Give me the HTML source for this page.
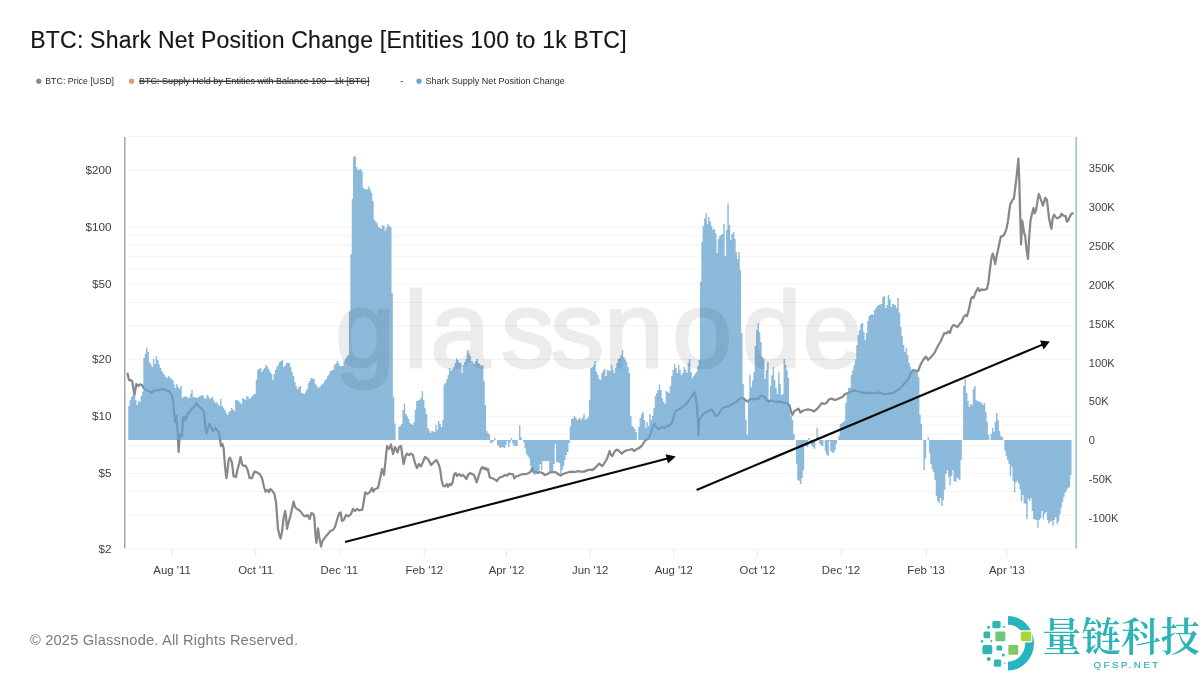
<!DOCTYPE html>
<html lang="en"><head><meta charset="utf-8"><title>BTC: Shark Net Position Change</title>
<style>
html,body{margin:0;padding:0;background:#fff}
body{width:1200px;height:675px;overflow:hidden;font-family:"Liberation Sans",sans-serif}
svg{display:block}
text{font-family:"Liberation Sans",sans-serif}
.cjk{font-family:"Liberation Serif","Noto Serif CJK SC",serif}
</style></head><body>
<svg width="1200" height="675" viewBox="0 0 1200 675">
<rect width="1200" height="675" fill="#fff"/>
<!-- title -->
<text id="title" x="30.2" y="48.4" font-size="23" fill="#161616" stroke="#161616" stroke-width="0.15" textLength="596.4" lengthAdjust="spacing">BTC: Shark Net Position Change [Entities 100 to 1k BTC]</text>
<!-- legend -->
<g font-size="9.7" fill="#2c2c2c">
<circle cx="38.8" cy="81.2" r="2.6" fill="#8a8a8a"/>
<text id="lg1" x="45.2" y="84.3" textLength="68.8" lengthAdjust="spacingAndGlyphs">BTC: Price [USD]</text>
<circle cx="131.6" cy="81.2" r="2.6" fill="#e8917b"/>
<text id="lg2" x="139" y="84.3" textLength="230.4" lengthAdjust="spacingAndGlyphs" text-decoration="line-through">BTC: Supply Held by Entities with Balance 100 - 1k [BTC]</text>
<path d="M139 81.3H369.4" stroke="#333" stroke-width="0.9"/>
<text x="400.3" y="84.3">-</text>
<circle cx="419" cy="81.2" r="2.6" fill="#6ea3c9"/>
<text id="lg3" x="425.5" y="84.3" textLength="139.3" lengthAdjust="spacingAndGlyphs">Shark Supply Net Position Change</text>
</g>
<!-- grid -->
<g stroke="#f3f3f3" stroke-width="1" fill="none">
<path d="M128 136.6H1072"/><path d="M128 515.3H1072"/><path d="M128 491.6H1072"/><path d="M128 473.3H1072"/><path d="M128 458.3H1072"/><path d="M128 445.6H1072"/><path d="M128 434.6H1072"/><path d="M128 424.9H1072"/><path d="M128 416.3H1072"/><path d="M128 359.3H1072"/><path d="M128 326H1072"/><path d="M128 302.3H1072"/><path d="M128 284H1072"/><path d="M128 269H1072"/><path d="M128 256.3H1072"/><path d="M128 245.3H1072"/><path d="M128 235.6H1072"/><path d="M128 227H1072"/><path d="M128 170H1072"/><path d="M128 549.3H1072"/>
</g>
<g stroke="#e9e9e9" stroke-width="1" fill="none"><path d="M172 549.5V557"/><path d="M255.6 549.5V557"/><path d="M339.3 549.5V557"/><path d="M424.3 549.5V557"/><path d="M506.5 549.5V557"/><path d="M590.2 549.5V557"/><path d="M673.8 549.5V557"/><path d="M757.4 549.5V557"/><path d="M841 549.5V557"/><path d="M926 549.5V557"/><path d="M1006.9 549.5V557"/></g>
<!-- price line -->
<path d="M127.6 373.6L129 380L131 380L132.4 382L134.4 395L136.4 384L138.4 386L140 384.4L142 385L143.6 388L146 390L149 391L151.4 393L154 390.4L157 390.4L160 389.6L163 389L166 390.4L169 391L171.6 395L173 400L174 412L175 422L176.4 416L177.6 432L178.6 452L179.6 436L180.6 434L182 436L183 418L184.4 417L185.6 420L188 413L190 412L192 408L194.4 407L196.4 403L198.4 406L200 407L202 409L204 412L205.6 429L206.4 433L208 428L209.4 424L211 427L213 431L215 428L217 430L219 433L220 439L221 446L222.4 444L223.6 448L225 466L226.4 478L227.6 470L228.6 460L230 457.6L232 463L233.6 476.4L236 477L237.6 469L239 464L240.6 457L242 464L243.6 466L245.6 465.6L247.6 470L249.6 478L252 478L254.4 471.6L257 472.4L259.6 474L262 478L264 487L265.6 491.6L267.6 490L269 492L270.4 489L272.4 491L274.4 494L276 502L277.2 518L278 529L279.4 535L280.6 538.6L282 532L283.6 518L285.2 511L286 516L287 529L288.4 523L290.4 516L292.4 507L293.6 501.6L295 507L297 509L299 510L301 512L303 515L305 516.4L307.6 515L309.6 519L311.4 513L313.4 514L314.4 518L315.4 534L316.4 543L318 528.4L319.4 538L321 546.6L322.4 541L324 539L326 536L328 534L330.4 531L333 530L335 527L337 520L339 513.6L340.6 512.4L342 521L344 519.6L346 515L348.4 516.4L351 514L353 509L355 511L357 509L359 510.4L362.4 509.6L364 500L365.2 492.4L367 494L369.6 492.4L372 488L373.4 491.6L375 489L378 488L380 479L382 469L384 475L385.6 460L387 446L389 449L391 444.4L393 454L395 447L397.6 452.4L399 447L401 446L402.4 456L403.6 464L405.6 456L407 453.6L409 455L411 453.6L413 455L415 463L417 468L419 464L421 466.4L423 462L425 457L428 459L431 465L434 462L436.4 460L439 465L440.4 471L441.6 480L443 485.6L445 486.4L447 484L448 487L449.6 484L451 485L452.4 483L454 475L455.6 473L457 476L459 474L461 476L463 475L465 477L466.4 479L468 475L470 473L472 474L474 475L475.6 479L476.6 482.4L478 478L479.6 473L481 469L482.4 467L484 469L485.6 468L487 470L488 469L489.6 477L491 478L493 478.4L495 479.6L497 481L499 478L501 477L503 476.4L505 475L507 475.6L509 473.6L511 474L513 474.4L514.4 478.4L516 476.4L518 476L520 475L523 474L526 474L529 473L531 471L532.4 468L533.6 472.4L535.6 471.6L537.6 473L540 472L542.4 473L545 475L547.6 474L550 472.4L553 472L556 472.4L558 474L560.6 475.6L563 474L566 473L569 472L572 471.6L575 472L578 471.2L581 471.6L584 471.6L587 470.4L590 469.6L592.4 470L595 468L597 466L599 463.6L601 465L602.4 466L604.4 463L606.4 460L608 456L609.6 451L611 455L612.4 456L614.4 452L616.4 449.6L618.4 450.4L619 451L621.6 453.6L623.6 452L626 450.4L629 450L632 449L634 451L636 449.6L639 448L641.6 446L643.6 443L645.6 440L648 439L650 436L651.6 430L653 426L654.4 424L656 427L658 429L660 428L662.4 427L664.4 428L666.4 426.4L669 425.6L671 424L673 420L674.4 414L676 411L678 409.6L680 409L682 407L684 406L686 404L688 402L690 399L692 396L693.6 393L695 392.4L696 400L697 406L697.6 416L698.4 435L699.2 420L700.4 418L702.4 415L704.4 413L706.4 412.4L708.4 411L710.4 409.6L712.4 410.4L714.4 414L716.4 416L718.4 414L720.4 411L722.4 408L725 407L728 406.4L731 405L734 403L737 401.6L739.6 399L741.6 398L743.6 398.4L745.6 400.4L747.6 401.6L749.6 399.6L752 399L754 399.6L756.4 398.4L758.4 399L760.4 396L762.4 395.6L764.4 397L766.4 400L768.4 401.6L770.4 400.4L773 401L776 402L779 401.6L782 402.4L785 403L787.6 403.6L789.6 406L791 411L792.4 415L794.4 411L796.4 410L798.4 408.6L800.4 412.6L802.4 411L805 410L808 409.4L811 410L814 411.4L817 409L819.6 406L821.6 403L824 404L826.4 403L829 399.4L832 398.6L834.4 400L837 399.4L839.6 398L842.4 397L845 394L848 393L851 391.4L854 390.6L857 391L860 392L863 392.6L866 393.4L869 392.6L872 393.4L875 393L878 392.6L881 393L884 394L887 394L890 393.4L893 393L896 391L899 389.4L901.6 387L904 384L906.4 381L908.4 379L910 375L911.6 371.4L913.6 370L916 371L918.4 370.6L920 366L922 362L924 358.6L926 356.6L928 360L930 358L932.4 355.4L934.4 353L936.4 349L938.4 345L940.4 342L942.4 337.4L944.4 333L946.4 333.4L948.4 331.4L950 333L951.6 327.4L953.6 325L955.6 326L957.6 327L959.6 324L961.6 322L963.6 317L965.6 315L967 316L969 309L971 299L972.4 297L973.6 298L975 294L976.4 291L978 288L979.6 291L981.6 289.4L983.6 290L985.6 289.4L986.9 289L988.4 282.7L989.8 270.3L991.5 257.9L992.7 253.7L994 257.9L995.2 264.1L996.7 255.8L998.7 246.5L1000.8 236.7L1002.9 236.1L1005 233L1006.4 228.8L1008.1 220.5L1009.1 212.2L1010.2 204.3L1011.6 201.9L1012.6 199.4L1013.9 198.7L1015.3 187.3L1016.8 174.9L1018.4 158.7L1019.3 181.1L1020.1 212.2L1021.1 244.4L1022.2 220.5L1023.2 226.7L1024.3 234L1025.1 235L1026.3 247.5L1028 258.9L1029.2 237.1L1030.5 220.5L1031.9 214.3L1033.4 208.1L1034.6 213.3L1036.1 210.2L1037.5 200.8L1038.8 194L1040.2 197.7L1041.7 201.9L1042.9 205.6L1044.4 200.8L1045.4 197.7L1046.9 199.8L1047.9 208.1L1049.1 218.4L1050.6 225.7L1051.4 228.8L1052.7 218.4L1054.1 214.7L1055.8 217.4L1057.4 218.4L1058.9 217.4L1060.3 216.8L1061.4 213.9L1063 215.3L1064.5 216L1065.7 216L1066.8 221.6L1068.2 220.5L1069.9 216.4L1071.3 213.9L1072.8 213.3" fill="none" stroke="#888888" stroke-width="2.25" stroke-linejoin="round" stroke-linecap="round"/>
<!-- bars -->
<path d="M128.2 440V406H129.6V400H130.9V397H132.3V395.5H133.7V394H135.1V400H136.4V405H137.8V401H139.2V402H140.5V395.9H141.9V392H143.3V358H144.7V354H146V347.6H147.4V352H148.8V362H150.1V364.6H151.5V367H152.9V359H154.2V364H155.6V356H157V360H158.4V364.2H159.7V368H161.1V371H162.5V373.3H163.8V375H165.2V376.9H166.6V378H168V376H169.3V377.5H170.7V379H172.1V380H173.4V384.5H174.8V388H176.2V384H177.6V387.1H178.9V389H180.3V386H181.7V398H183V397H184.4V396H185.8V397H187.2V397.4H188.5V398H189.9V393.8H191.3V390H192.6V397H194V397.2H195.4V397.7H196.8V398H198.1V396.8H199.5V396H200.9V395.4H202.2V395H203.6V397.9H205V399H206.3V395H207.7V396.5H209.1V399H210.5V398H211.8V397H213.2V400.4H214.6V403H215.9V402H217.3V404H218.7V406H220.1V399H221.4V406H222.8V407.7H224.2V410H225.5V413.1H226.9V415H228.3V412H229.7V410.8H231V408H232.4V409.6H233.8V411H235.1V400H236.5V400.3H237.9V401H239.3V402.4H240.6V404H242V398H243.4V399H244.7V400H246.1V396H247.5V397.3H248.8V399H250.2V397.4H251.6V396H253V394.6H254.3V394H255.7V380H257.1V370H258.4V368.9H259.8V368H261.2V372H262.6V369.5H263.9V368H265.3V365H266.7V366.8H268V369H269.4V371.7H270.8V374H272.2V380H273.5V373.9H274.9V370H276.3V366.7H277.6V365H279V362H280.4V361.1H281.8V360H283.1V367H284.5V365.4H285.9V363H287.2V363H288.6V363H290V367H291.3V371.7H292.7V376H294.1V382H295.5V386H296.8V389H298.2V387.1H299.6V386H300.9V393H302.3V393.4H303.7V394H305.1V391.4H306.4V389H307.8V383H309.2V380.9H310.5V378H311.9V378.6H313.3V379H314.7V384H316V385.4H317.4V388H318.8V387H320.1V385.9H321.5V384.1H322.9V383H324.3V380.4H325.6V379H327V376H328.4V374.2H329.7V371H331.1V370.6H332.5V370H333.8V365H335.2V363.6H336.6V361H338V363.2H339.3V366H340.7V366H342.1V366H343.4V361.3H344.8V359H346.2V356.5H347.6V355H348.9V311.6H350.3V254.4H351.7V199H353V157H354.4V156H355.8V167H357.2V170H358.5V169.4H359.9V169H361.3V171.5H362.6V188H364V188.7H365.4V190H366.8V189H368.1V186.6H369.5V189.7H370.9V193H372.2V201.2H373.6V220H375V221.6H376.4V223.2H377.7V227H379.1V227.8H380.5V229H381.8V225H383.2V226H384.6V231H385.9V227.4H387.3V224H388.7V226H390.1V227H391.4V293.1H392.8V397H394.2V423.5H395.5V440H396.9V440H398.3V427H399.7V426H401V424H402.4V410H403.8V403.6H405.1V414H406.5V416.5H407.9V419H409.3V423H410.6V424.3H412V425H413.4V422H414.7V410H416.1V401H417.5V400.4H418.9V400H420.2V398H421.6V391H423V400H424.3V408H425.7V414H427.1V428H428.4V430.3H429.8V433H431.2V431H432.6V431.5H433.9V432H435.3V425H436.7V430H438V421H439.4V424.3H440.8V427H442.2V420H443.5V384.4H444.9V383H446.3V379.2H447.6V375H449V368H450.4V371H451.8V369.3H453.1V367H454.5V363H455.9V358H457.2V360.3H458.6V363H460V363H461.4V373H462.7V365H464.1V362H465.5V359H466.8V350H468.2V353.4H469.6V356H470.9V361H472.3V362.5H473.7V364H475.1V361.1H476.4V359H477.8V363H479.2V364.3H480.5V366H481.9V365H483.3V381H484.7V405.2H486V431.1H487.4V433H488.8V435H490.1V443.3H491.5V442.5H492.9V441H494.3V438H495.6V440H497V445.1H498.4V447.1H499.7V448H501.1V447H502.5V447.4H503.9V448H505.2V444.8H506.6V441H508V447H509.3V442.4H510.7V438H512.1V443.4H513.5V446H514.8V446H516.2V446H517.6V440H518.9V425.4H520.3V437H521.7V440H523V442H524.4V448H525.8V454H527.2V455.7H528.5V458H529.9V466H531.3V468.9H532.6V472H534V475H535.4V473.4H536.8V472H538.1V471H539.5V464H540.9V470H542.2V461H543.6V461H545V461H546.4V461H547.7V461H549.1V472H550.5V471.5H551.8V471H553.2V464H554.6V444H556V462H557.3V462.5H558.7V463H560.1V474H561.4V470H562.8V466H564.2V460H565.5V455.1H566.9V452H568.3V443.3H569.7V426.5H571V419H572.4V418.2H573.8V416H575.1V417.7H576.5V420H577.9V419H579.3V418H580.6V420H582V417.4H583.4V414H584.7V420H586.1V418.7H587.5V417H588.9V400H590.2V368H591.6V367H593V365H594.3V361H595.7V372H597.1V374.7H598.5V379H599.8V380H601.2V373H602.6V370.5H603.9V369H605.3V376H606.7V370H608V370.4H609.4V371H610.8V365H612.2V369.2H613.5V373H614.9V368H616.3V362.9H617.6V359H619V358H620.4V355H621.8V350H623.1V357H624.5V359.5H625.9V362H627.2V367H628.6V373H630V416H631.4V426H632.7V427H634.1V429H635.5V432H636.8V440H638.2V426.8H639.6V418H641V414.3H642.3V412H643.7V420H645.1V428H646.4V422H647.8V426H649.2V414H650.6V420H651.9V416H653.3V408H654.7V396H656V393.3H657.4V390H658.8V384.4H660.1V390H661.5V398H662.9V402H664.3V404H665.6V391H667V392H668.4V393H669.7V386H671.1V376H672.5V370H673.9V364H675.2V368.1H676.6V373H678V365H679.3V370.1H680.7V375H682.1V373H683.5V367H684.8V370H686.2V373H687.6V363H688.9V359H690.3V372H691.7V378H693.1V376H694.4V373.8H695.8V372H697.2V366H698.5V360H699.9V281.9H701.3V242H702.6V226H704V218.4H705.4V212.9H706.8V224H708.1V217H709.5V221.4H710.9V226H712.2V229.8H713.6V229H715V233.5H716.4V253H717.7V239H719.1V236H720.5V235.1H721.8V234H723.2V224H724.6V256H726V230H727.3V203.6H728.7V225H730.1V240H731.4V234H732.8V232H734.2V239H735.6V252H736.9V259H738.3V252H739.7V270H741V332.9H742.4V384H743.8V400H745.1V420H746.5V434.7H747.9V400H749.3V374.9H750.6V387H752V380.5H753.4V372H754.7V346H756.1V330H757.5V323H758.9V332H760.2V342H761.6V357H763V359H764.3V379H765.7V370H767.1V362.3H768.5V402H769.8V386H771.2V375.5H772.6V367H773.9V380H775.3V388H776.7V394H778.1V372H779.4V384H780.8V395H782.2V394H783.5V359H784.9V365H786.3V370H787.7V378.1H789V404H790.4V416H791.8V420H793.1V434H794.5V440H795.9V464H797.2V480H798.6V481H800V484H801.4V478H802.7V470.2H804.1V446H805.5V446.6H806.8V447H808.2V438H809.6V443H811V445H812.3V447H813.7V449H815.1V440H816.4V428H817.8V436.7H819.2V444H820.6V445.2H821.9V446H823.3V440H824.7V451H826V454.3H827.4V456H828.8V441H830.2V451H831.5V452.2H832.9V453H834.3V450H835.6V444H837V440H838.4V436H839.7V424H841.1V423.2H842.5V422H843.9V421H845.2V403H846.6V394H848V388H849.3V387.8H850.7V375H852.1V370.2H853.5V365H854.8V359H856.2V345H857.6V335H858.9V330H860.3V324H861.7V323H863.1V332H864.4V340H865.8V333H867.2V321H868.5V316H869.9V315H871.3V314H872.7V315H874V310H875.4V307.8H876.8V306H878.1V305H879.5V304.4H880.9V304H882.2V297H883.6V296H885V308H886.4V305H887.7V295H889.1V299H890.5V307H891.8V304H893.2V304.5H894.6V305H896V308H897.3V298H898.7V312.8H900.1V327H901.4V336H902.8V345H904.2V352H905.6V348H906.9V355H908.3V363H909.7V367H911V370H912.4V369.7H913.8V369H915.2V371H916.5V372H917.9V377.2H919.3V415H920.6V423.8H922V440H923.4V470H924.8V458.2H926.1V440H927.5V437H928.9V453.2H930.2V464H931.6V469.2H933V472H934.3V480H935.7V496H937.1V501H938.5V503H939.8V498H941.2V506H942.6V500H943.9V490H945.3V474H946.7V470H948.1V477H949.4V485H950.8V476H952.2V470H953.5V481H954.9V482H956.3V478H957.7V478.8H959V480H960.4V459.8H961.8V440H963.1V385.9H964.5V379H965.9V393H967.3V401H968.6V407H970V404H971.4V405H972.7V389H974.1V386H975.5V400H976.8V401H978.2V401.7H979.6V402H981V403H982.3V405H983.7V403H985.1V412H986.4V422H987.8V435.1H989.2V440H990.6V434H991.9V428H993.3V432H994.7V422H996V413H997.4V420H998.8V430.9H1000.2V436.1H1001.5V437H1002.9V440H1004.3V450.6H1005.6V455.9H1007V460.3H1008.4V463.9H1009.8V476.4H1011.1V466.6H1012.5V480.9H1013.9V492.4H1015.2V482.6H1016.6V480.8H1018V483.5H1019.4V489.7H1020.7V501.3H1022.1V495H1023.5V503H1024.8V504H1026.2V519H1027.6V498.6H1028.9V501H1030.3V498.6H1031.7V511H1033.1V519H1034.4V519.5H1035.8V520H1037.2V527.4H1038.5V520H1039.9V518H1041.3V511H1042.7V519.4H1044V514H1045.4V512H1046.8V520H1048.1V523.5H1049.5V521.7H1050.9V520.8H1052.3V526H1053.6V520H1055V517H1056.4V524H1057.7V521.7H1059.1V514.6H1060.5V507.5H1061.9V502H1063.2V496.8H1064.6V492.4H1066V490.3H1067.3V488H1068.7V486.9H1070.1V475.2H1071.4V440Z" fill="#6aa6d3" fill-opacity="0.72"/>
<path d="M129.5 440V406M130.8 440V400M132.2 440V397M133.6 440V395.5M135 440V394M136.3 440V400M137.7 440V405M139.1 440V401M140.4 440V402M141.8 440V395.9M143.2 440V392M144.6 440V358M145.9 440V354M147.3 440V347.6M148.7 440V352M150 440V362M151.4 440V364.6M152.8 440V367M154.1 440V359M155.5 440V364M156.9 440V356M158.3 440V360M159.6 440V364.2M161 440V368M162.4 440V371M163.7 440V373.3M165.1 440V375M166.5 440V376.9M167.9 440V378M169.2 440V376M170.6 440V377.5M172 440V379M173.3 440V380M174.7 440V384.5M176.1 440V388M177.5 440V384M178.8 440V387.1M180.2 440V389M181.6 440V386M182.9 440V398M184.3 440V397M185.7 440V396M187.1 440V397M188.4 440V397.4M189.8 440V398M191.2 440V393.8M192.5 440V390M193.9 440V397M195.3 440V397.2M196.7 440V397.7M198 440V398M199.4 440V396.8M200.8 440V396M202.1 440V395.4M203.5 440V395M204.9 440V397.9M206.2 440V399M207.6 440V395M209 440V396.5M210.4 440V399M211.7 440V398M213.1 440V397M214.5 440V400.4M215.8 440V403M217.2 440V402M218.6 440V404M220 440V406M221.3 440V399M222.7 440V406M224.1 440V407.7M225.4 440V410M226.8 440V413.1M228.2 440V415M229.6 440V412M230.9 440V410.8M232.3 440V408M233.7 440V409.6M235 440V411M236.4 440V400M237.8 440V400.3M239.2 440V401M240.5 440V402.4M241.9 440V404M243.3 440V398M244.6 440V399M246 440V400M247.4 440V396M248.7 440V397.3M250.1 440V399M251.5 440V397.4M252.9 440V396M254.2 440V394.6M255.6 440V394M257 440V380M258.3 440V370M259.7 440V368.9M261.1 440V368M262.5 440V372M263.8 440V369.5M265.2 440V368M266.6 440V365M267.9 440V366.8M269.3 440V369M270.7 440V371.7M272.1 440V374M273.4 440V380M274.8 440V373.9M276.2 440V370M277.5 440V366.7M278.9 440V365M280.3 440V362M281.7 440V361.1M283 440V360M284.4 440V367M285.8 440V365.4M287.1 440V363M288.5 440V363M289.9 440V363M291.2 440V367M292.6 440V371.7M294 440V376M295.4 440V382M296.7 440V386M298.1 440V389M299.5 440V387.1M300.8 440V386M302.2 440V393M303.6 440V393.4M305 440V394M306.3 440V391.4M307.7 440V389M309.1 440V383M310.4 440V380.9M311.8 440V378M313.2 440V378.6M314.6 440V379M315.9 440V384M317.3 440V385.4M318.7 440V388M320 440V387M321.4 440V385.9M322.8 440V384.1M324.2 440V383M325.5 440V380.4M326.9 440V379M328.3 440V376M329.6 440V374.2M331 440V371M332.4 440V370.6M333.7 440V370M335.1 440V365M336.5 440V363.6M337.9 440V361M339.2 440V363.2M340.6 440V366M342 440V366M343.3 440V366M344.7 440V361.3M346.1 440V359M347.5 440V356.5M348.8 440V355M350.2 440V311.6M351.6 440V254.4M352.9 440V199M354.3 440V157M355.7 440V156M357.1 440V167M358.4 440V170M359.8 440V169.4M361.2 440V169M362.5 440V171.5M363.9 440V188M365.3 440V188.7M366.7 440V190M368 440V189M369.4 440V186.6M370.8 440V189.7M372.1 440V193M373.5 440V201.2M374.9 440V220M376.3 440V221.6M377.6 440V223.2M379 440V227M380.4 440V227.8M381.7 440V229M383.1 440V225M384.5 440V226M385.8 440V231M387.2 440V227.4M388.6 440V224M390 440V226M391.3 440V227M392.7 440V293.1M394.1 440V397M395.4 440V423.5M399.6 440V427M400.9 440V426M402.3 440V424M403.7 440V410M405 440V403.6M406.4 440V414M407.8 440V416.5M409.2 440V419M410.5 440V423M411.9 440V424.3M413.3 440V425M414.6 440V422M416 440V410M417.4 440V401M418.8 440V400.4M420.1 440V400M421.5 440V398M422.9 440V391M424.2 440V400M425.6 440V408M427 440V414M428.3 440V428M429.7 440V430.3M431.1 440V433M432.5 440V431M433.8 440V431.5M435.2 440V432M436.6 440V425M437.9 440V430M439.3 440V421M440.7 440V424.3M442.1 440V427M443.4 440V420M444.8 440V384.4M446.2 440V383M447.5 440V379.2M448.9 440V375M450.3 440V368M451.7 440V371M453 440V369.3M454.4 440V367M455.8 440V363M457.1 440V358M458.5 440V360.3M459.9 440V363M461.3 440V363M462.6 440V373M464 440V365M465.4 440V362M466.7 440V359M468.1 440V350M469.5 440V353.4M470.8 440V356M472.2 440V361M473.6 440V362.5M475 440V364M476.3 440V361.1M477.7 440V359M479.1 440V363M480.4 440V364.3M481.8 440V366M483.2 440V365M484.6 440V381M485.9 440V405.2M487.3 440V431.1M488.7 440V433M490 440V435M491.4 440V443.3M492.8 440V442.5M494.2 440V441M495.5 440V438M498.3 440V445.1M499.6 440V447.1M501 440V448M502.4 440V447M503.8 440V447.4M505.1 440V448M506.5 440V444.8M507.9 440V441M509.2 440V447M510.6 440V442.4M512 440V438M513.4 440V443.4M514.7 440V446M516.1 440V446M517.5 440V446M520.2 440V425.4M521.6 440V437M524.3 440V442M525.7 440V448M527.1 440V454M528.4 440V455.7M529.8 440V458M531.2 440V466M532.5 440V468.9M533.9 440V472M535.3 440V475M536.7 440V473.4M538 440V472M539.4 440V471M540.8 440V464M542.1 440V470M543.5 440V461M544.9 440V461M546.3 440V461M547.6 440V461M549 440V461M550.4 440V472M551.7 440V471.5M553.1 440V471M554.5 440V464M555.9 440V444M557.2 440V462M558.6 440V462.5M560 440V463M561.3 440V474M562.7 440V470M564.1 440V466M565.4 440V460M566.8 440V455.1M568.2 440V452M569.6 440V443.3M570.9 440V426.5M572.3 440V419M573.7 440V418.2M575 440V416M576.4 440V417.7M577.8 440V420M579.2 440V419M580.5 440V418M581.9 440V420M583.3 440V417.4M584.6 440V414M586 440V420M587.4 440V418.7M588.8 440V417M590.1 440V400M591.5 440V368M592.9 440V367M594.2 440V365M595.6 440V361M597 440V372M598.4 440V374.7M599.7 440V379M601.1 440V380M602.5 440V373M603.8 440V370.5M605.2 440V369M606.6 440V376M607.9 440V370M609.3 440V370.4M610.7 440V371M612.1 440V365M613.4 440V369.2M614.8 440V373M616.2 440V368M617.5 440V362.9M618.9 440V359M620.3 440V358M621.7 440V355M623 440V350M624.4 440V357M625.8 440V359.5M627.1 440V362M628.5 440V367M629.9 440V373M631.3 440V416M632.6 440V426M634 440V427M635.4 440V429M636.7 440V432M639.5 440V426.8M640.9 440V418M642.2 440V414.3M643.6 440V412M645 440V420M646.3 440V428M647.7 440V422M649.1 440V426M650.5 440V414M651.8 440V420M653.2 440V416M654.6 440V408M655.9 440V396M657.3 440V393.3M658.7 440V390M660 440V384.4M661.4 440V390M662.8 440V398M664.2 440V402M665.5 440V404M666.9 440V391M668.3 440V392M669.6 440V393M671 440V386M672.4 440V376M673.8 440V370M675.1 440V364M676.5 440V368.1M677.9 440V373M679.2 440V365M680.6 440V370.1M682 440V375M683.4 440V373M684.7 440V367M686.1 440V370M687.5 440V373M688.8 440V363M690.2 440V359M691.6 440V372M693 440V378M694.3 440V376M695.7 440V373.8M697.1 440V372M698.4 440V366M699.8 440V360M701.2 440V281.9M702.5 440V242M703.9 440V226M705.3 440V218.4M706.7 440V212.9M708 440V224M709.4 440V217M710.8 440V221.4M712.1 440V226M713.5 440V229.8M714.9 440V229M716.3 440V233.5M717.6 440V253M719 440V239M720.4 440V236M721.7 440V235.1M723.1 440V234M724.5 440V224M725.9 440V256M727.2 440V230M728.6 440V203.6M730 440V225M731.3 440V240M732.7 440V234M734.1 440V232M735.5 440V239M736.8 440V252M738.2 440V259M739.6 440V252M740.9 440V270M742.3 440V332.9M743.7 440V384M745 440V400M746.4 440V420M747.8 440V434.7M749.2 440V400M750.5 440V374.9M751.9 440V387M753.3 440V380.5M754.6 440V372M756 440V346M757.4 440V330M758.8 440V323M760.1 440V332M761.5 440V342M762.9 440V357M764.2 440V359M765.6 440V379M767 440V370M768.4 440V362.3M769.7 440V402M771.1 440V386M772.5 440V375.5M773.8 440V367M775.2 440V380M776.6 440V388M778 440V394M779.3 440V372M780.7 440V384M782.1 440V395M783.4 440V394M784.8 440V359M786.2 440V365M787.6 440V370M788.9 440V378.1M790.3 440V404M791.7 440V416M793 440V420M794.4 440V434M797.1 440V464M798.5 440V480M799.9 440V481M801.3 440V484M802.6 440V478M804 440V470.2M805.4 440V446M806.7 440V446.6M808.1 440V447M809.5 440V438M810.9 440V443M812.2 440V445M813.6 440V447M815 440V449M817.7 440V428M819.1 440V436.7M820.5 440V444M821.8 440V445.2M823.2 440V446M825.9 440V451M827.3 440V454.3M828.7 440V456M830.1 440V441M831.4 440V451M832.8 440V452.2M834.2 440V453M835.5 440V450M836.9 440V444M839.6 440V436M841 440V424M842.4 440V423.2M843.8 440V422M845.1 440V421M846.5 440V403M847.9 440V394M849.2 440V388M850.6 440V387.8M852 440V375M853.4 440V370.2M854.7 440V365M856.1 440V359M857.5 440V345M858.8 440V335M860.2 440V330M861.6 440V324M863 440V323M864.3 440V332M865.7 440V340M867.1 440V333M868.4 440V321M869.8 440V316M871.2 440V315M872.6 440V314M873.9 440V315M875.3 440V310M876.7 440V307.8M878 440V306M879.4 440V305M880.8 440V304.4M882.1 440V304M883.5 440V297M884.9 440V296M886.3 440V308M887.6 440V305M889 440V295M890.4 440V299M891.7 440V307M893.1 440V304M894.5 440V304.5M895.9 440V305M897.2 440V308M898.6 440V298M900 440V312.8M901.3 440V327M902.7 440V336M904.1 440V345M905.5 440V352M906.8 440V348M908.2 440V355M909.6 440V363M910.9 440V367M912.3 440V370M913.7 440V369.7M915.1 440V369M916.4 440V371M917.8 440V372M919.2 440V377.2M920.5 440V415M921.9 440V423.8M924.7 440V470M926 440V458.2M928.8 440V437M930.1 440V453.2M931.5 440V464M932.9 440V469.2M934.2 440V472M935.6 440V480M937 440V496M938.4 440V501M939.7 440V503M941.1 440V498M942.5 440V506M943.8 440V500M945.2 440V490M946.6 440V474M948 440V470M949.3 440V477M950.7 440V485M952.1 440V476M953.4 440V470M954.8 440V481M956.2 440V482M957.6 440V478M958.9 440V478.8M960.3 440V480M961.7 440V459.8M964.4 440V385.9M965.8 440V379M967.2 440V393M968.5 440V401M969.9 440V407M971.3 440V404M972.6 440V405M974 440V389M975.4 440V386M976.7 440V400M978.1 440V401M979.5 440V401.7M980.9 440V402M982.2 440V403M983.6 440V405M985 440V403M986.3 440V412M987.7 440V422M989.1 440V435.1M991.8 440V434M993.2 440V428M994.6 440V432M995.9 440V422M997.3 440V413M998.7 440V420M1000.1 440V430.9M1001.4 440V436.1M1002.8 440V437M1005.5 440V450.6M1006.9 440V455.9M1008.3 440V460.3M1009.7 440V463.9M1011 440V476.4M1012.4 440V466.6M1013.8 440V480.9M1015.1 440V492.4M1016.5 440V482.6M1017.9 440V480.8M1019.2 440V483.5M1020.6 440V489.7M1022 440V501.3M1023.4 440V495M1024.7 440V503M1026.1 440V504M1027.5 440V519M1028.8 440V498.6M1030.2 440V501M1031.6 440V498.6M1033 440V511M1034.3 440V519M1035.7 440V519.5M1037.1 440V520M1038.4 440V527.4M1039.8 440V520M1041.2 440V518M1042.6 440V511M1043.9 440V519.4M1045.3 440V514M1046.7 440V512M1048 440V520M1049.4 440V523.5M1050.8 440V521.7M1052.2 440V520.8M1053.5 440V526M1054.9 440V520M1056.3 440V517M1057.6 440V524M1059 440V521.7M1060.4 440V514.6M1061.8 440V507.5M1063.1 440V502M1064.5 440V496.8M1065.9 440V492.4M1067.2 440V490.3M1068.6 440V488M1070 440V486.9M1071.3 440V475.2" fill="none" stroke="#4f8dbd" stroke-opacity="0.3" stroke-width="0.45"/>
<!-- watermark -->
<g opacity="0.072"><text id="wm" x="335.3 403.9 430.6 500.9 550.4 603.9 672.6 741.8 802.6" y="366.6" font-size="107" fill="#000" stroke="#000" stroke-width="2.8" stroke-linejoin="round">glassnode</text></g>
<!-- axes -->
<path d="M124.8 137V548.5" stroke="#9a9a9a" stroke-width="1.3"/>
<path d="M1076.2 137V548.8" stroke="#a9c2d3" stroke-width="1.7"/>
<!-- axis labels -->
<g font-size="11.7" fill="#3e3e3e" text-anchor="end"><text x="111.5" y="174">$200</text><text x="111.5" y="231">$100</text><text x="111.5" y="288">$50</text><text x="111.5" y="363.3">$20</text><text x="111.5" y="420.3">$10</text><text x="111.5" y="477.3">$5</text><text x="111.5" y="552.6">$2</text></g>
<g font-size="11.1" fill="#3e3e3e"><text x="1088.8" y="172">350K</text><text x="1088.8" y="210.9">300K</text><text x="1088.8" y="249.8">250K</text><text x="1088.8" y="288.7">200K</text><text x="1088.8" y="327.6">150K</text><text x="1088.8" y="366.5">100K</text><text x="1088.8" y="405.4">50K</text><text x="1088.8" y="444.3">0</text><text x="1088.8" y="483.2">-50K</text><text x="1088.8" y="522.1">-100K</text></g>
<g font-size="11.4" fill="#3e3e3e" text-anchor="middle"><text x="172" y="574">Aug '11</text><text x="255.6" y="574">Oct '11</text><text x="339.3" y="574">Dec '11</text><text x="424.3" y="574">Feb '12</text><text x="506.5" y="574">Apr '12</text><text x="590.2" y="574">Jun '12</text><text x="673.8" y="574">Aug '12</text><text x="757.4" y="574">Oct '12</text><text x="841" y="574">Dec '12</text><text x="926" y="574">Feb '13</text><text x="1006.9" y="574">Apr '13</text></g>
<!-- arrows -->
<g stroke="#0a0a0a" stroke-width="2.1" fill="#0a0a0a" stroke-linecap="butt">
<path d="M345 542L667.5 458.6" fill="none"/>
<path d="M675.8 456.6L665.6 454.2L668 463.4Z" stroke="none"/>
<path d="M696.6 490L1042.5 344.6" fill="none"/>
<path d="M1049.8 341.4L1040 340.6L1043.6 349.4Z" stroke="none"/>
</g>
<!-- footer -->
<text id="ft" x="30" y="645" font-size="14.6" fill="#7a7a7a" textLength="268" lengthAdjust="spacing">© 2025 Glassnode. All Rights Reserved.</text>
<!-- logo -->
<g id="logo">
<path d="M1008 615.9A26 27.3 0 0 1 1008 670.5V661.7A17.2 18.5 0 0 0 1008 624.7Z" fill="#27b3c0"/>
<rect x="1019.6" y="630.3" width="12.8" height="12.2" rx="2" fill="#fff"/>
<rect x="1020.8" y="631.5" width="10.4" height="9.8" rx="1.5" fill="#a5d836"/>
<rect x="995.4" y="631.5" width="9.9" height="9.8" rx="1" fill="#6ec67e"/>
<rect x="1008.4" y="644.9" width="9.8" height="9.9" rx="1" fill="#7fc862"/>
<g fill="#2fb7b0">
<rect x="992.3" y="621" width="8.3" height="7.3" rx="1.5"/>
<rect x="983.5" y="631.5" width="6.7" height="6.7" rx="1.5"/>
<rect x="982.4" y="645" width="9.9" height="9.3" rx="1.8"/>
<rect x="996.5" y="645.5" width="5.7" height="5.1" rx="1.2"/>
<rect x="993.9" y="659.5" width="7.2" height="7.2" rx="1.5"/>
<circle cx="988.5" cy="627.3" r="1.5"/><circle cx="1004" cy="627" r="1"/><circle cx="982" cy="641.3" r="1.3"/>
<circle cx="991.3" cy="641" r="1"/><circle cx="1003.4" cy="655.1" r="1.5"/><circle cx="988.7" cy="659.1" r="2"/><circle cx="1004.8" cy="663.3" r="0.7"/>
</g>
<text class="cjk" x="1042" y="651.4" font-size="39.5" font-weight="600" fill="#2bb4b6" textLength="158" lengthAdjust="spacing">量链科技</text>
<text x="1093.6" y="667.5" font-size="9.7" fill="#2bb4b6" stroke="#2bb4b6" stroke-width="0.2" textLength="64.5" lengthAdjust="spacing">QFSP.NET</text>
</g>
</svg>
</body></html>
